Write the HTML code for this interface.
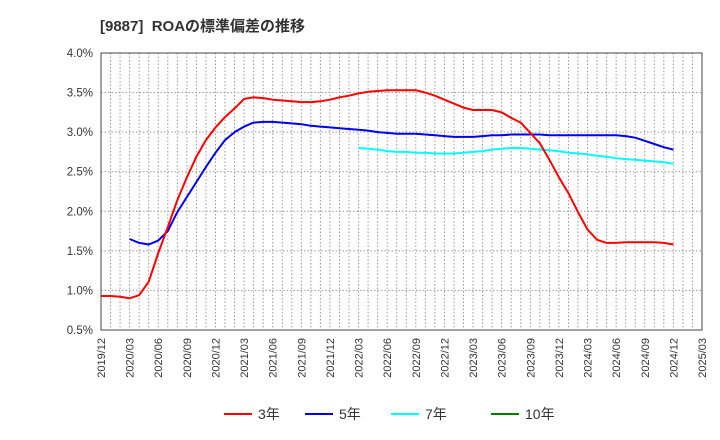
<!DOCTYPE html>
<html><head><meta charset="utf-8"><style>
body{margin:0;background:#fff;}
svg{display:block;font-family:"Liberation Sans","Noto Sans CJK JP",sans-serif;}
</style></head><body>
<svg id="c" width="720" height="440" viewBox="0 0 720 440">
<text x="100" y="31" font-size="15" font-weight="bold" fill="#333" style="white-space:pre">[9887]  ROAの標準偏差の推移</text>
</svg>
<script>
const xTicks=["2019/12","2020/03","2020/06","2020/09","2020/12","2021/03","2021/06","2021/09","2021/12","2022/03","2022/06","2022/09","2022/12","2023/03","2023/06","2023/09","2023/12","2024/03","2024/06","2024/09","2024/12","2025/03"];
const yTicks=[0.5,1.0,1.5,2.0,2.5,3.0,3.5,4.0];
const s3Start=0;
const s3=[0.93,0.93,0.92,0.90,0.94,1.11,1.47,1.80,2.14,2.43,2.69,2.90,3.06,3.19,3.30,3.42,3.44,3.43,3.41,3.40,3.39,3.38,3.38,3.39,3.41,3.44,3.46,3.49,3.51,3.52,3.53,3.53,3.53,3.53,3.50,3.46,3.41,3.36,3.31,3.28,3.28,3.28,3.25,3.18,3.12,2.99,2.86,2.65,2.43,2.23,1.99,1.77,1.64,1.60,1.60,1.61,1.61,1.61,1.61,1.60,1.58];
const s5Start=3;
const s5=[1.65,1.60,1.58,1.63,1.75,1.99,2.18,2.37,2.56,2.74,2.90,3.00,3.07,3.12,3.13,3.13,3.12,3.11,3.10,3.08,3.07,3.06,3.05,3.04,3.03,3.02,3.00,2.99,2.98,2.98,2.98,2.97,2.96,2.95,2.94,2.94,2.94,2.95,2.96,2.96,2.97,2.97,2.97,2.97,2.96,2.96,2.96,2.96,2.96,2.96,2.96,2.96,2.95,2.93,2.89,2.85,2.81,2.78];
const s7Start=27;
const s7=[2.80,2.79,2.78,2.76,2.75,2.75,2.74,2.74,2.73,2.73,2.73,2.74,2.75,2.76,2.78,2.79,2.80,2.80,2.79,2.78,2.77,2.76,2.74,2.73,2.72,2.70,2.69,2.67,2.66,2.65,2.64,2.63,2.62,2.60];
const s10=[];
const L=101,R=702,T=53,B=330,NM=63;
const xs=i=>L+i*(R-L)/NM;
const ys=v=>B-(v-0.5)/3.5*(B-T);
const svg=document.getElementById('c');
const NS='http://www.w3.org/2000/svg';
function mk(t,a){const e=document.createElementNS(NS,t);for(const k in a)e.setAttribute(k,a[k]);svg.appendChild(e);return e;}
for(let m=1;m<NM;m++){const g=mk('line',{x1:xs(m),x2:xs(m),y1:T,y2:B,stroke:'#999','stroke-dasharray':'1.5,2','stroke-width':1});

}
yTicks.forEach(v=>{if(v>0.5&&v<4.0){const g=mk('line',{x1:L,x2:R,y1:ys(v),y2:ys(v),stroke:'#999','stroke-dasharray':'1.5,2'});

}
const t=mk('text',{x:93,y:ys(v)+4,'text-anchor':'end','font-size':11.5,fill:'#333'});t.textContent=v.toFixed(1)+'%';

});
const fr=mk('rect',{x:L,y:T,width:R-L,height:B-T,fill:'none',stroke:'#444','stroke-width':1});


xTicks.forEach((s,i)=>{const x=xs(i*3);const t=mk('text',{x:0,y:0,'text-anchor':'end','font-size':11,fill:'#333',transform:`translate(${x+4},338) rotate(-90)`});t.textContent=s;

});
function series(arr,st,col,name){if(!arr.length)return;const p=arr.map((v,i)=>xs(st+i).toFixed(1)+','+ys(v).toFixed(1)).join(' ');
const e=mk('polyline',{points:p,fill:'none',stroke:col,'stroke-width':2,'stroke-linejoin':'round'});

}
series(s7,s7Start,'#00ffff','series-7y');
series(s5,s5Start,'#0000ee','series-5y');
series(s3,s3Start,'#ff0000','series-3y');
series(s10,0,'#008000','series-10y');
const leg=[['3年','#ff0000',224],['5年','#0000ee',305],['7年','#00ffff',391],['10年','#008000',491]];
leg.forEach(([n,c,x])=>{const l=mk('line',{x1:x,x2:x+28,y1:414,y2:414,stroke:c,'stroke-width':2});


const t=mk('text',{x:x+34,y:419,'font-size':14,fill:'#333'});t.textContent=n;

});
</script>
</body></html>
